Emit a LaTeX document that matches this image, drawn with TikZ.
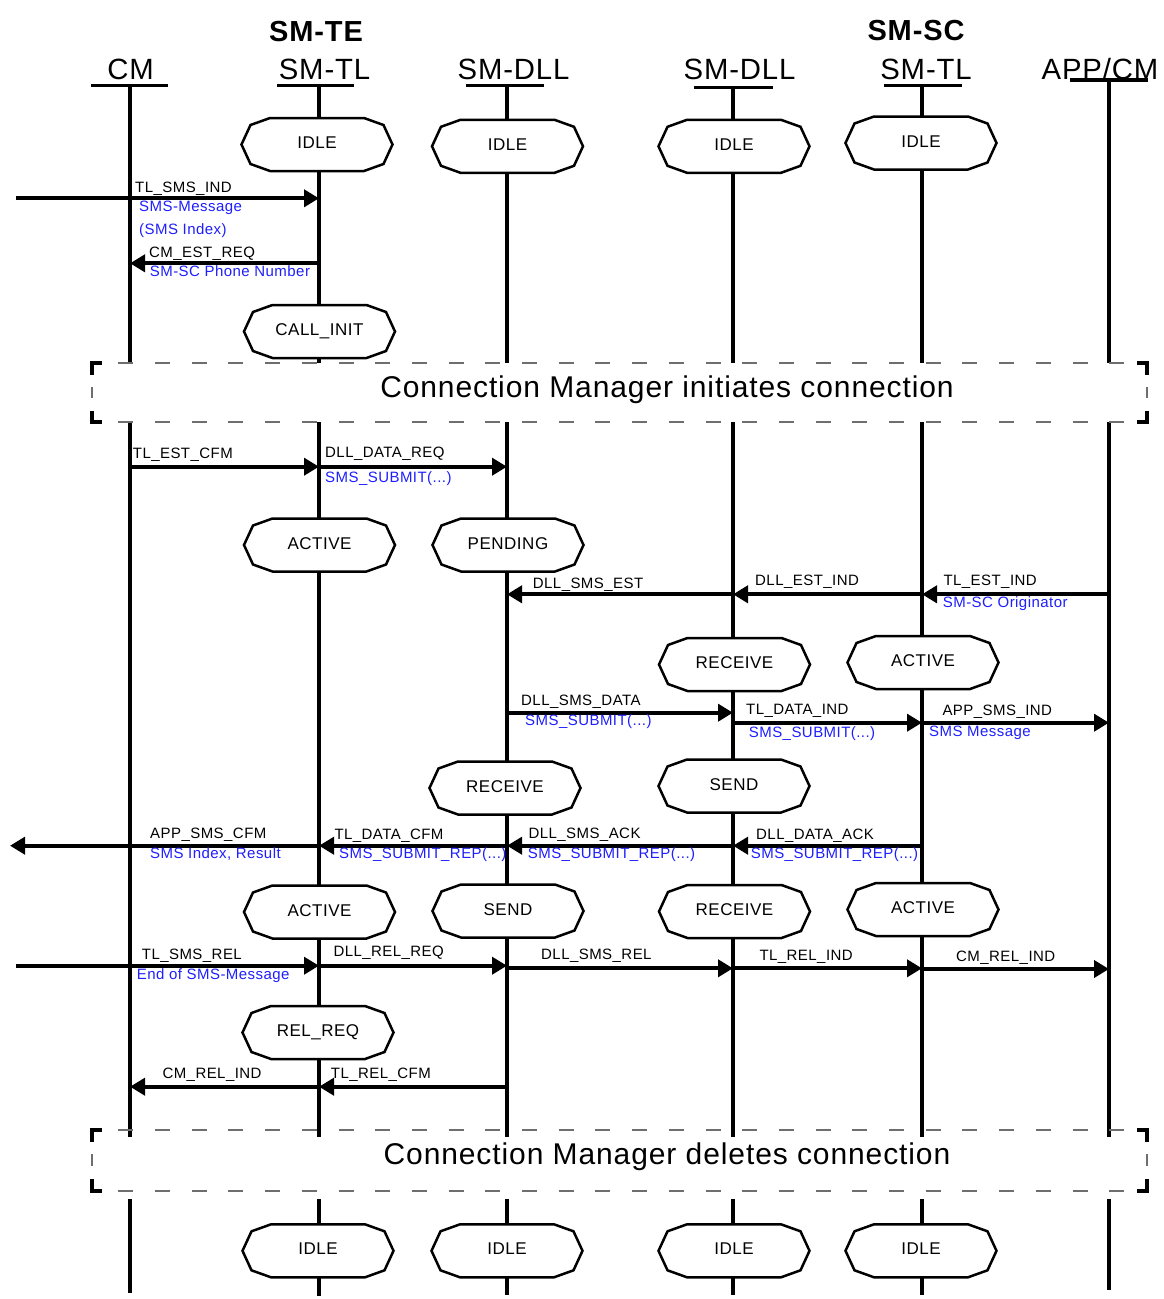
\documentclass[tikz,border=0pt]{standalone}
\usepackage{fontspec}
\setmainfont{Liberation Sans}[LetterSpace=3]
\usetikzlibrary{arrows.meta}
\definecolor{msgblue}{RGB}{30,30,255}
\definecolor{dashgray}{RGB}{110,110,110}
\newcommand{\mystate}[4]{%
  \draw[stline] (#2,#3) ++(-75.5,0) -- ++(9,-19.5) -- ++(19.5,-7) -- ++(94,0) -- ++(19.5,7) -- ++(9,19.5) -- ++(-9,19.5) -- ++(-19.5,7) -- ++(-94,0) -- ++(-19.5,-7) -- cycle;
  \node[sttext] (#1) at (#2,#3+4) {#4};}
\begin{document}
\begin{tikzpicture}[x=1pt,y=-1pt,
  life/.style={line width=4pt},
  uline/.style={line width=3.5pt},
  msg/.style={line width=3.8pt,-{Triangle[length=15pt,width=17pt]}},
  lab/.style={anchor=base west,inner sep=0pt,font=\fontsize{15}{18}\selectfont},
  blab/.style={lab,text=msgblue},
  head/.style={anchor=base,inner sep=0pt,font=\fontsize{29.3}{34}\selectfont},
  bhead/.style={anchor=base,inner sep=0pt,font=\fontsize{29}{34}\selectfont\bfseries},
  sttext/.style={anchor=base,inner sep=0pt,font=\fontsize{17}{20}\selectfont},
  stline/.style={line width=2.5pt,fill=white,line join=miter},
  boxtext/.style={anchor=base,inner sep=0pt,font=\fontsize{30}{36}\selectfont},
  dashln/.style={dashgray,line width=1.5pt,dash pattern=on 15pt off 21.7pt},
  corner/.style={line width=3.5pt},
  tick/.style={dashgray,line width=1.5pt}
]
\useasboundingbox (0,0) rectangle (1163,1299);

% headers
\node[bhead] (te) at (316,41.7) {SM-TE};
\node[bhead] (sc) at (916,40) {SM-SC};
\node[head] (hCM) at (130.5,79) {CM};
\node[head] (hTL1) at (324.5,79) {SM-TL};
\node[head] (hDLL1) at (513.5,79) {SM-DLL};
\node[head] (hDLL2) at (739.5,79) {SM-DLL};
\node[head] (hTL2) at (926,79) {SM-TL};
\node[head] (hAPP) at (1100,79) {APP/CM};

% lifelines
\coordinate (lCM) at (130,85.7);   \coordinate (lCMb) at (130,1293);
\coordinate (lTL1) at (319,85.7);  \coordinate (lTL1b) at (319,1296);
\coordinate (lDLL1) at (507,85.7); \coordinate (lDLL1b) at (507,1295);
\coordinate (lDLL2) at (733,87.7); \coordinate (lDLL2b) at (733,1295);
\coordinate (lTL2) at (922,85.7);  \coordinate (lTL2b) at (922,1295);
\coordinate (lAPP) at (1109,80);   \coordinate (lAPPb) at (1109,1290);
\draw[life] (lCM) -- (lCMb);
\draw[life] (lTL1) -- (lTL1b);
\draw[life] (lDLL1) -- (lDLL1b);
\draw[life] (lDLL2) -- (lDLL2b);
\draw[life] (lTL2) -- (lTL2b);
\draw[life] (lAPP) -- (lAPPb);

% underlines
\draw[uline] (91,85.7) -- (168.3,85.7);
\draw[uline] (277.3,85.7) -- (354.3,85.7);
\draw[uline] (466,85.7) -- (543.7,85.7);
\draw[uline] (694,87.7) -- (772.7,87.7);
\draw[uline] (884,85.7) -- (962,85.7);
\draw[uline] (1070,80) -- (1147.7,80);

% dashed boxes
\fill[white] (92,363) rectangle (1147,422);
\draw[dashln] (118.3,363) -- (1140,363);
\draw[dashln] (118.3,422) -- (1140,422);
\draw[corner] (101.7,363) -- (92,363) -- (92,375);
\draw[corner] (92,411) -- (92,422) -- (101.7,422);
\draw[corner] (1137.3,363) -- (1147,363) -- (1147,375);
\draw[corner] (1147,411) -- (1147,422) -- (1137.3,422);
\draw[tick] (92,387) -- (92,398);
\draw[tick] (1147,387) -- (1147,398);
\node[boxtext] (box1) at (667,397) {Connection Manager initiates connection};

\fill[white] (88,1137) rectangle (1152,1199);
\draw[dashln] (118.3,1130) -- (1140,1130);
\draw[dashln] (118.3,1191) -- (1140,1191);
\draw[corner] (101.7,1130) -- (92,1130) -- (92,1142);
\draw[corner] (92,1179) -- (92,1191) -- (101.7,1191);
\draw[corner] (1137.3,1130) -- (1147,1130) -- (1147,1142);
\draw[corner] (1147,1179) -- (1147,1191) -- (1137.3,1191);
\draw[tick] (92,1154) -- (92,1166);
\draw[tick] (1147,1154) -- (1147,1166);
\node[boxtext] (box2) at (667,1164) {Connection Manager deletes connection};

% states
\mystate{s1}{317}{144.5}{IDLE}
\mystate{s2}{507.5}{146.3}{IDLE}
\mystate{s3}{734}{146.3}{IDLE}
\mystate{s4}{921}{143}{IDLE}
\mystate{s5}{319.5}{331.5}{CALL\_INIT}
\mystate{s6}{319.5}{545}{ACTIVE}
\mystate{s7}{508}{545}{PENDING}
\mystate{s8}{734.5}{664.5}{RECEIVE}
\mystate{s9}{923}{662.5}{ACTIVE}
\mystate{s10}{505}{788}{RECEIVE}
\mystate{s11}{734}{786}{SEND}
\mystate{s12}{319.5}{912}{ACTIVE}
\mystate{s13}{508}{911}{SEND}
\mystate{s14}{734.5}{911.5}{RECEIVE}
\mystate{s15}{923}{909.5}{ACTIVE}
\mystate{s16}{318}{1032.5}{REL\_REQ}
\mystate{s17}{318}{1250.8}{IDLE}
\mystate{s18}{507}{1250.8}{IDLE}
\mystate{s19}{734}{1250.8}{IDLE}
\mystate{s20}{921}{1250.8}{IDLE}

% messages
\coordinate (in1) at (16,198.3);
\draw[msg] (in1) -- (lTL1 |- 0,198.3);
\node[lab] (m1) at (135,192.7) {TL\_SMS\_IND};
\node[blab] (m1b) at (139,211.7) {SMS-Message};
\node[blab] (m1c) at (139,234.3) {(SMS Index)};

\draw[msg] (lTL1 |- 0,263.3) -- (lCM |- 0,263.3);
\node[lab] (m2) at (149,257.3) {CM\_EST\_REQ};
\node[blab] (m2b) at (149.7,276.7) {SM-SC Phone Number};

\draw[msg] (lCM |- 0,466.7) -- (lTL1 |- 0,466.7);
\node[lab] (m3) at (132.7,458.3) {TL\_EST\_CFM};

\draw[msg] (lTL1 |- 0,466.7) -- (lDLL1 |- 0,466.7);
\node[lab] (m4) at (325,457.3) {DLL\_DATA\_REQ};
\node[blab] (m4b) at (325,482.5) {SMS\_SUBMIT(...)};

\draw[msg] (lDLL2 |- 0,594.3) -- (lDLL1 |- 0,594.3);
\node[lab] (m5) at (532.7,588.3) {DLL\_SMS\_EST};

\draw[msg] (lTL2 |- 0,594.3) -- (lDLL2 |- 0,594.3);
\node[lab] (m6) at (755,585.7) {DLL\_EST\_IND};

\draw[msg] (lAPP |- 0,594.3) -- (lTL2 |- 0,594.3);
\node[lab] (m7) at (943.3,585.7) {TL\_EST\_IND};
\node[blab] (m7b) at (942.7,607) {SM-SC Originator};

\draw[msg] (lDLL1 |- 0,712.7) -- (lDLL2 |- 0,712.7);
\node[lab] (m8) at (521,705) {DLL\_SMS\_DATA};
\node[blab] (m8b) at (525,725) {SMS\_SUBMIT(...)};

\draw[msg] (lDLL2 |- 0,722.7) -- (lTL2 |- 0,722.7);
\node[lab] (m9) at (746,714) {TL\_DATA\_IND};
\node[blab] (m9b) at (748.7,737.3) {SMS\_SUBMIT(...)};

\draw[msg] (lTL2 |- 0,722.7) -- (lAPP |- 0,722.7);
\node[lab] (m10) at (942.3,715.3) {APP\_SMS\_IND};
\node[blab] (m10b) at (929,736) {SMS Message};

\draw[msg] (lTL2 |- 0,845.7) -- (lDLL2 |- 0,845.7);
\node[lab] (m11) at (756,839) {DLL\_DATA\_ACK};
\node[blab] (m11b) at (750.7,858.5) {SMS\_SUBMIT\_REP(...)};

\draw[msg] (lDLL2 |- 0,845.7) -- (lDLL1 |- 0,845.7);
\node[lab] (m12) at (528.3,838.5) {DLL\_SMS\_ACK};
\node[blab] (m12b) at (527.7,858.5) {SMS\_SUBMIT\_REP(...)};

\draw[msg] (lDLL1 |- 0,845.7) -- (lTL1 |- 0,845.7);
\node[lab] (m13) at (334.3,839) {TL\_DATA\_CFM};
\node[blab] (m13b) at (339,858.3) {SMS\_SUBMIT\_REP(...)};

\coordinate (out14) at (10,845.7);
\draw[msg] (lTL1 |- 0,845.7) -- (out14);
\node[lab] (m14) at (150,838.3) {APP\_SMS\_CFM};
\node[blab] (m14b) at (150,858.3) {SMS Index, Result};

\coordinate (in15) at (16,965.7);
\draw[msg] (in15) -- (lTL1 |- 0,965.7);
\node[lab] (m15) at (141.7,959.3) {TL\_SMS\_REL};
\node[blab] (m15b) at (136.7,979) {End of SMS-Message};

\draw[msg] (lTL1 |- 0,965.7) -- (lDLL1 |- 0,965.7);
\node[lab] (m16) at (333.3,956) {DLL\_REL\_REQ};

\draw[msg] (lDLL1 |- 0,968.3) -- (lDLL2 |- 0,968.3);
\node[lab] (m17) at (541,959) {DLL\_SMS\_REL};

\draw[msg] (lDLL2 |- 0,968.3) -- (lTL2 |- 0,968.3);
\node[lab] (m18) at (759.3,960) {TL\_REL\_IND};

\draw[msg] (lTL2 |- 0,969) -- (lAPP |- 0,969);
\node[lab] (m19) at (956,961.7) {CM\_REL\_IND};

\draw[msg] (lDLL1 |- 0,1086.7) -- (lTL1 |- 0,1086.7);
\node[lab] (m20) at (330.7,1078) {TL\_REL\_CFM};

\draw[msg] (lTL1 |- 0,1086.7) -- (lCM |- 0,1086.7);
\node[lab] (m21) at (162.3,1078.3) {CM\_REL\_IND};
\end{tikzpicture}
\end{document}
